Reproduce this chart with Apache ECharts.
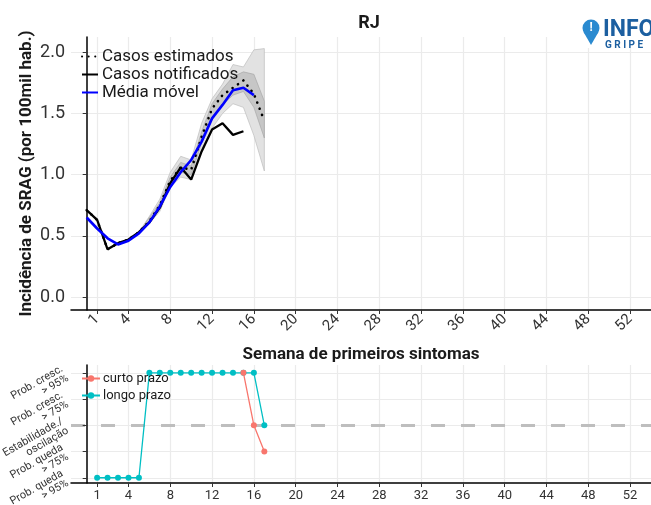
<!DOCTYPE html>
<html><head><meta charset="utf-8">
<script src="https://cdn.jsdelivr.net/npm/echarts@6/dist/echarts.min.js"></script>
<style>html,body{margin:0;padding:0;background:#fff}#c{width:651px;height:505px}</style>
</head><body><div id="c"></div>
<script>
// ---- data ----
const weekTicks = [1,4,8,12,16,20,24,28,32,36,40,44,48,52];
const incTicks = [0,0.5,1,1.5,2];
const notifWeeks = [0,1,2,3,4,5,6,7,8,9,10,11,12,13,14,15];
const notifValues = [0.71,0.63,0.39,0.44,0.47,0.53,0.61,0.73,0.93,1.06,0.96,1.19,1.37,1.42,1.325,1.355];
const mmWeeks = [0,1,2,3,4,5,6,7,8,9,10,11,12,13,14,15,16];
const mmValues = [0.65,0.56,0.48,0.43,0.46,0.52,0.61,0.74,0.90,1.02,1.12,1.27,1.46,1.57,1.69,1.71,1.65];
const estWeeks = [0,1,2,3,4,5,6,7,8,9,10,11,12,13,14,15,16,17];
const estValues = [0.71,0.63,0.39,0.44,0.47,0.53,0.62,0.75,0.95,1.06,1.04,1.31,1.54,1.65,1.71,1.77,1.66,1.44];
const bandWeeks = [5,6,7,8,9,10,11,12,13,14,15,16,17];
const ci95Lower = [0.53,0.60,0.70,0.90,0.98,0.96,1.20,1.38,1.50,1.58,1.55,1.32,1.03];
const ci95Upper = [0.53,0.66,0.80,1.02,1.15,1.12,1.42,1.62,1.74,1.90,1.88,2.02,2.03];
const ci50Lower = [0.53,0.61,0.72,0.93,1.02,1.00,1.26,1.47,1.57,1.65,1.68,1.55,1.30];
const ci50Upper = [0.53,0.65,0.77,0.98,1.10,1.07,1.35,1.58,1.70,1.80,1.84,1.82,1.60];
const trendLevels = [1,2,3,4,5];
const trendLabels = ['Prob. queda\n> 95%','Prob. queda\n> 75%','Estabilidade./\noscilação','Prob. cresc.\n> 75%','Prob. cresc.\n> 95%'];
const longoWeeks = [1,2,3,4,5,6,7,8,9,10,11,12,13,14,15,16,17];
const longoValues = [1,1,1,1,1,5,5,5,5,5,5,5,5,5,5,5,3];
const curtoWeeks = [15,16,17];
const curtoValues = [5,3,2];
const stableLevel = 3;

const pair = (xs, ys) => xs.map((x,i)=>[x, ys[i]]);

const FONT = 'Roboto';
const txt = '#333333';
const gridCol = '#ebebeb';

function bandSeries(lo, hi, fill, stroke){
  return {type:'custom', xAxisIndex:0, yAxisIndex:0, silent:true, z:1, clip:true,
    data: bandWeeks.map((w,i)=>[w, lo[i], hi[i]]),
    encode:{x:0, y:[1,2]},
    renderItem:(params, api)=>{
      if (params.dataIndex !== 0) return null;
      const pts = [];
      for (let i=0;i<bandWeeks.length;i++) pts.push(api.coord([bandWeeks[i], hi[i]]));
      for (let i=bandWeeks.length-1;i>=0;i--) pts.push(api.coord([bandWeeks[i], lo[i]]));
      return {type:'polygon', shape:{points:pts}, style:{fill:fill, stroke:stroke, lineWidth:0.7}};
    }};
}

const chart = echarts.init(document.getElementById('c'), null, {renderer:'canvas'});
const xCommon = {
  type:'value', min:-1.5, max:54,
  axisLine:{show:true, onZero:false, lineStyle:{color:'#000', width:1.5}},
  axisTick:{show:true, customValues:weekTicks, length:4, lineStyle:{color:'#333', width:1}},
  splitLine:{show:true, lineStyle:{color:gridCol, width:1.2}},
};
const option = {
  animation:false,
  backgroundColor:'#ffffff',
  title:{text:'RJ', left:364, top:9, textAlign:'center',
    textStyle:{fontFamily:FONT, fontWeight:'bold', fontSize:18, color:'#1a1a1a'}},
  grid:[
    {left:71, right:0, top:37, bottom:195, containLabel:false, outerBoundsMode:'none'},
    {left:71, right:0, top:365, bottom:22, containLabel:false, outerBoundsMode:'none'}
  ],
  legend:[
    {data:['Casos estimados','Casos notificados','Média móvel'], orient:'vertical',
     left:76, top:43, itemWidth:16, itemHeight:10, itemGap:1,
     itemStyle:{opacity:0},
     textStyle:{fontFamily:FONT, fontSize:17, color:'#1a1a1a', padding:[0,0,0,-1]}},
    {data:['curto prazo','longo prazo'], orient:'vertical', left:76, top:367, itemWidth:18, itemHeight:8, itemGap:4,
     textStyle:{fontFamily:FONT, fontSize:13, color:'#1a1a1a', padding:[0,0,0,-2]}}
  ],
  xAxis:[
    Object.assign({}, xCommon, {gridIndex:0,
      axisLabel:{customValues:weekTicks, rotate:45, fontFamily:FONT, fontSize:15, color:txt, margin:7},
      name:'Semana de primeiros sintomas', nameLocation:'middle', nameGap:36, nameMoveOverlap:false,
      nameTextStyle:{fontFamily:FONT, fontWeight:'bold', fontSize:17, color:'#1a1a1a'}}),
    Object.assign({}, xCommon, {gridIndex:1,
      axisLabel:{customValues:weekTicks, fontFamily:FONT, fontSize:13, color:txt, margin:6}})
  ],
  yAxis:[
    {type:'value', gridIndex:0, min:-0.106, max:2.125,
     axisLine:{show:true, lineStyle:{color:'#000', width:1.5}},
     axisTick:{show:true, customValues:incTicks, length:4, lineStyle:{color:'#333'}},
     axisLabel:{customValues:incTicks, formatter:v=>v.toFixed(1), fontFamily:FONT, fontSize:18, color:txt, margin:6},
     splitLine:{show:true, lineStyle:{color:gridCol, width:1.2}},
     name:'Incidência de SRAG (por 100mil hab.)', nameLocation:'middle', nameGap:36, nameMoveOverlap:false,
     nameTextStyle:{fontFamily:FONT, fontWeight:'bold', fontSize:17, color:'#1a1a1a'}},
    {type:'value', gridIndex:1, min:0.8, max:5.3,
     axisLine:{show:true, lineStyle:{color:'#000', width:1.5}},
     axisTick:{show:true, customValues:trendLevels, length:4, lineStyle:{color:'#333'}},
     axisLabel:{customValues:trendLevels, formatter:v=>trendLabels[trendLevels.indexOf(v)] || '',
       hideOverlap:false, showMinLabel:true, showMaxLabel:true, interval:0,
       rotate:30, fontFamily:FONT, fontSize:11, lineHeight:11, color:txt, margin:6, align:'right'},
     splitLine:{show:true, lineStyle:{color:gridCol, width:1.2}}}
  ],
  series:[
    bandSeries(ci95Lower, ci95Upper, '#e2e2e2', '#bdbdbd'),
    bandSeries(ci50Lower, ci50Upper, '#c6c6c6', '#a8a8a8'),
    {name:'Casos notificados', type:'line', xAxisIndex:0, yAxisIndex:0, data:pair(notifWeeks, notifValues),
     symbol:'none', color:'#000', lineStyle:{color:'#000', width:2.3}, z:3},
    {name:'Casos estimados', type:'line', xAxisIndex:0, yAxisIndex:0, data:pair(estWeeks, estValues),
     symbol:'none', color:'#000', lineStyle:{color:'#000', width:2.6, type:[0.1,6.5], cap:'round'}, z:4},
    {name:'Média móvel', type:'line', xAxisIndex:0, yAxisIndex:0, data:pair(mmWeeks, mmValues),
     symbol:'none', color:'#0000ff', lineStyle:{color:'#0000ff', width:2.6}, z:5},
    {name:'ref', type:'line', xAxisIndex:1, yAxisIndex:1, data:[[1, stableLevel]], symbol:'none',
     lineStyle:{opacity:0}, silent:true, z:0,
     markLine:{silent:true, symbol:'none', label:{show:false}, z:0,
       lineStyle:{color:'#bebebe', width:3, type:[14,16]}, data:[{yAxis:stableLevel}]}},
    {name:'longo prazo', type:'line', xAxisIndex:1, yAxisIndex:1, data:pair(longoWeeks, longoValues),
     symbol:'circle', symbolSize:6, color:'#00BFC4', lineStyle:{color:'#00BFC4', width:1.3},
     itemStyle:{color:'#00BFC4'}, z:3},
    {name:'curto prazo', type:'line', xAxisIndex:1, yAxisIndex:1, data:pair(curtoWeeks, curtoValues),
     symbol:'circle', symbolSize:6, color:'#F8766D', lineStyle:{color:'#F8766D', width:1.3},
     itemStyle:{color:'#F8766D'}, z:4}
  ],
  graphic:[
    {type:'rect', left:578, top:14, shape:{width:73, height:34}, style:{fill:'#ffffff'}, z:50},
    {type:'circle', shape:{cx:591, cy:28, r:8.5}, style:{fill:'#2a8ad0'}, z:51},
    {type:'polygon', shape:{points:[[583.5,32],[598.5,32],[591,45]]}, style:{fill:'#2a8ad0'}, z:51},
    {type:'text', x:591, y:28, style:{text:'!', fill:'#fff', font:'bold 12px Roboto', textAlign:'center', textVerticalAlign:'middle'}, z:52},
    {type:'text', x:603, y:30, style:{text:'INFO', fill:'#1c5fa0', font:'bold 23px Roboto', textAlign:'left', textVerticalAlign:'middle'}, z:52},
    {type:'text', x:605, y:45, style:{text:'G R I P E', fill:'#1c5fa0', font:'bold 10px Roboto', textAlign:'left', textVerticalAlign:'middle'}, z:52}
  ]
};
chart.setOption(option);
</script></body></html>
